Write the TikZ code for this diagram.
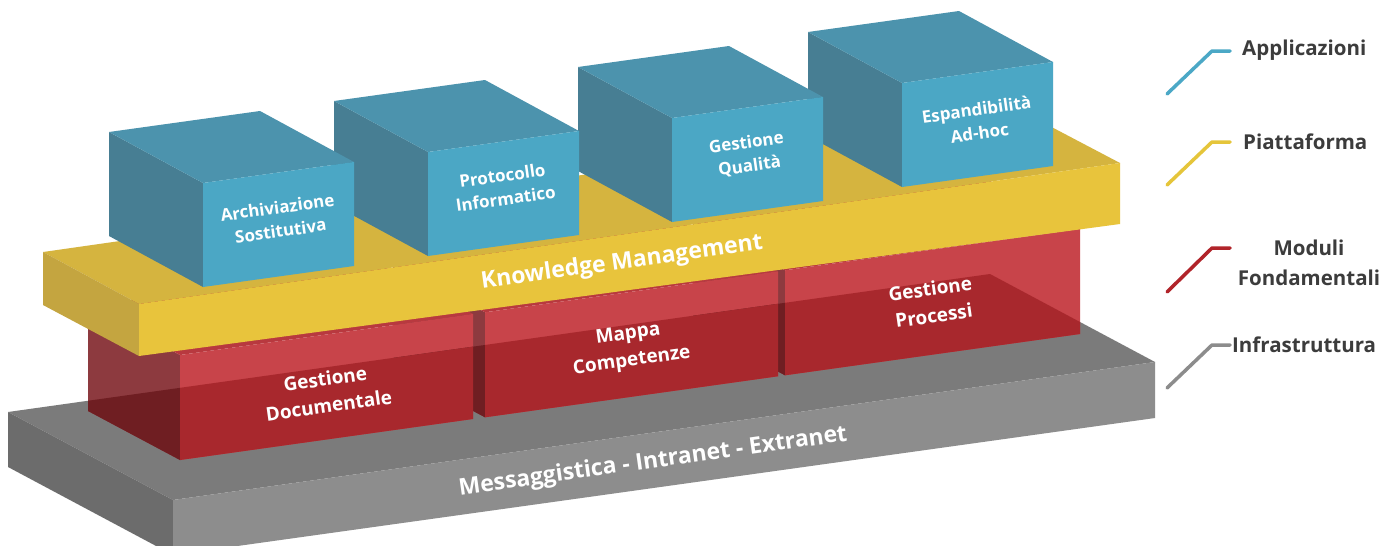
\documentclass[tikz,border=0pt]{standalone}
\usepackage{fontspec}
\setmainfont{Open Sans}
\definecolor{graytop}{HTML}{7B7B7B}
\definecolor{grayleft}{HTML}{6C6C6C}
\definecolor{grayfront}{HTML}{8D8D8D}
\definecolor{redfront}{HTML}{C8444A}
\definecolor{redleft}{HTML}{8D3A3F}
\definecolor{redtop}{HTML}{B8393F}
\definecolor{redfrontd}{HTML}{A8282D}
\definecolor{redleftd}{HTML}{6F1E22}
\definecolor{redtopd}{HTML}{98252A}
\definecolor{yelfront}{HTML}{E8C43C}
\definecolor{yelleft}{HTML}{C4A540}
\definecolor{yeltop}{HTML}{D5B43F}
\definecolor{bfront}{HTML}{4BA7C5}
\definecolor{bleft}{HTML}{477E93}
\definecolor{btop}{HTML}{4C93AD}
\definecolor{legtext}{HTML}{3C3C3C}
\definecolor{legblue}{HTML}{4BA8C6}
\definecolor{legyel}{HTML}{E5C53A}
\definecolor{legred}{HTML}{B1242A}
\definecolor{leggray}{HTML}{8C8C8C}
% blue cube: front top-left corner (#1,#2)
\newcommand\bluecube[2]{%
  \fill[bleft] (#1,#2) -- ({#1},{#2+104}) -- ({#1-94},{#2+53}) -- ({#1-94},{#2-51}) -- cycle;
  \fill[btop] (#1,#2) -- ({#1+151},{#2-21}) -- ({#1+57},{#2-72}) -- ({#1-94},{#2-51}) -- cycle;
  \fill[bfront] (#1,#2) -- ({#1+151},{#2-21}) -- ({#1+151},{#2+83}) -- ({#1},{#2+104}) -- cycle;
}
% red block between x=#1 and x=#2; colours #3 front, #4 left, #5 top
\newcommand\redblk[5]{%
  \fill[#4] ({#1},{460-0.14*(#1-180)-105}) -- ({#1},{460-0.14*(#1-180)})
     -- ({#1-92},{460-0.14*(#1-180)-49}) -- ({#1-92},{460-0.14*(#1-180)-154}) -- cycle;
  \fill[#5] ({#1},{460-0.14*(#1-180)-105}) -- ({#2},{460-0.14*(#2-180)-105})
     -- ({#2-92},{460-0.14*(#2-180)-154}) -- ({#1-92},{460-0.14*(#1-180)-154}) -- cycle;
  \fill[#3] ({#1},{460-0.14*(#1-180)-105}) -- ({#2},{460-0.14*(#2-180)-105})
     -- ({#2},{460-0.14*(#2-180)}) -- ({#1},{460-0.14*(#1-180)}) -- cycle;
}
\begin{document}
\begin{tikzpicture}[x=1pt,y=-1pt,
  lbl/.style={text=white, font=\bfseries\fontsize{17}{23.5}\selectfont, align=center, rotate=8, inner sep=0pt},
  rlbl/.style={text=white, font=\bfseries\fontsize{19}{27}\selectfont, align=center, rotate=8, inner sep=0pt},
  big/.style={text=white, font=\bfseries\fontsize{23}{26}\selectfont, rotate=8, inner sep=0pt},
  leg/.style={text=legtext, font=\bfseries\fontsize{20.5}{30}\selectfont, inner sep=0pt, align=center},
  legline/.style={line width=3.5pt, line cap=round, line join=round}]
\useasboundingbox (0,0) rectangle (1390,546);
\fill[white] (0,0) rectangle (1390,546);

% ---- gray slab (Infrastruttura)
\fill[graytop] (8,412) -- (990,274) -- (1155,362) -- (173,500) -- cycle;
\fill[grayleft] (8,412) -- (173,500) -- (173,555) -- (8,467) -- cycle;
\fill[grayfront] (173,500) -- (1155,362) -- (1155,418) -- (173,555) -- cycle;

% ---- red blocks (Moduli Fondamentali)
\redblk{785}{1080}{redfront}{redleft}{redtop}
\redblk{485}{778}{redfront}{redleft}{redtop}
\redblk{180}{473}{redfront}{redleft}{redtop}
\begin{scope}
  \clip (8,412) -- (990,274) -- (1155,362) -- (1155,418) -- (173,555) -- (8,467) -- cycle;
  \redblk{785}{1080}{redfrontd}{redleftd}{redtopd}
  \redblk{485}{778}{redfrontd}{redleftd}{redtopd}
  \redblk{180}{473}{redfrontd}{redleftd}{redtopd}
\end{scope}

% ---- yellow slab (Piattaforma)
\fill[yeltop] (43,252) -- (1023,112) -- (1120,163) -- (139,304) -- cycle;
\fill[yelleft] (43,252) -- (139,304) -- (139,356) -- (43,305) -- cycle;
\fill[yelfront] (139,304) -- (1120,163) -- (1120,224) -- (139,356) -- cycle;

% ---- blue cubes (Applicazioni)
\bluecube{902}{83}
\bluecube{672}{118}
\bluecube{428}{152}
\bluecube{203}{183}

% ---- labels
\node[lbl] (arch) at (279,219) {Archiviazione\\Sostitutiva};
\node[lbl] (prot) at (504,187) {Protocollo\\Informatico};
\node[lbl] (qual) at (748,155) {Gestione\\Qualità};
\node[lbl] (espa) at (978,121) {Espandibilità\\Ad-hoc};
\node[big] (know) at (622,263) {Knowledge Management};
\node[rlbl] (docu) at (327,392) {Gestione\\Documentale};
\node[rlbl] (mapp) at (630,348) {Mappa\\Competenze};
\node[rlbl] (proc) at (932,302) {Gestione\\Processi};
\node[big] (mess) at (653,462) {Messaggistica - Intranet - Extranet};

% ---- legend
\node[leg, anchor=west] (lapp) at (1242,50) {Applicazioni};
\node[leg, anchor=west] (lpia) at (1243,142) {Piattaforma};
\node[leg] (lmod) at (1309,263) {Moduli\\Fondamentali};
\node[leg, anchor=west] (linf) at (1232,345) {Infrastruttura};
\coordinate (a1) at (1167,94);  \coordinate (a2) at (1212,51);  \coordinate (a3) at (1230,51);
\coordinate (p1) at (1167,185); \coordinate (p2) at (1212,142); \coordinate (p3) at (1230,142);
\coordinate (m1) at (1167,292); \coordinate (m2) at (1212,248); \coordinate (m3) at (1230,248);
\coordinate (i1) at (1167,388); \coordinate (i2) at (1212,345); \coordinate (i3) at (1230,345);
\draw[legline, legblue] (a1) -- (a2) -- (a3);
\draw[legline, legyel] (p1) -- (p2) -- (p3);
\draw[legline, legred] (m1) -- (m2) -- (m3);
\draw[legline, leggray] (i1) -- (i2) -- (i3);
\end{tikzpicture}
\end{document}
